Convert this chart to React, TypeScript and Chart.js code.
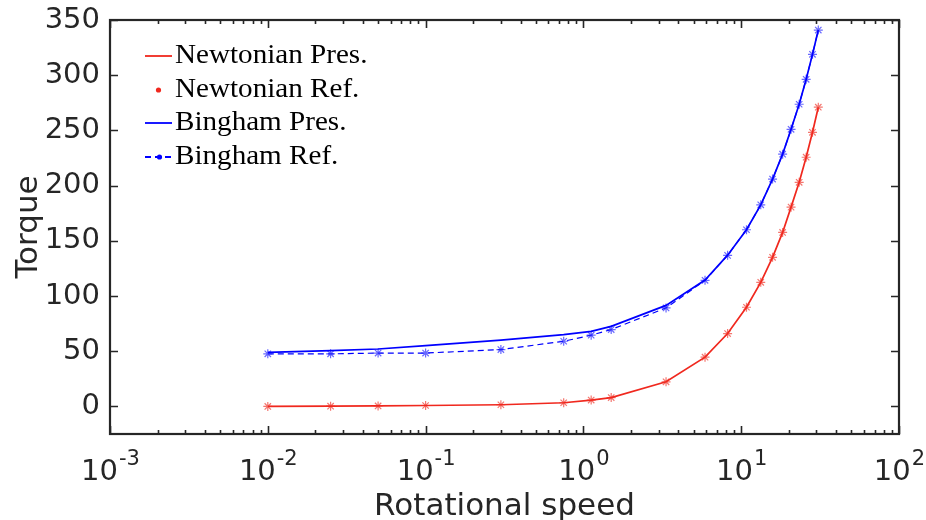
import { useEffect, useRef } from "react";
import { Chart, registerables } from "chart.js";

Chart.register(...registerables);

// ---- data ----
const speeds = [0.01, 0.025, 0.05, 0.1, 0.3, 0.75, 1.12, 1.5, 3.34, 5.9, 8.2, 10.8, 13.3, 15.8, 18.3, 20.7, 23.3, 25.8, 28.3, 30.8];
const newtonianPres = [0, 0.2, 0.4, 0.8, 1.5, 3.3, 5.7, 8, 22.3, 44.6, 66, 89.8, 112.4, 135, 157.6, 180.5, 203, 225.7, 248.3, 271];
const newtonianRef = [0, 0.2, 0.4, 0.8, 1.5, 3.3, 5.7, 8, 22.3, 44.6, 66, 89.8, 112.4, 135, 157.6, 180.5, 203, 225.7, 248.3, 271];
const binghamPres = [49, 50.5, 52, 55, 60, 65, 68, 72.5, 91.5, 114.5, 137, 160, 182.6, 205.9, 228.5, 251, 273.7, 296.3, 318.9, 340.9];
const binghamRef = [47.6, 47.6, 48.3, 48.3, 51.5, 59, 64.5, 69.6, 89.2, 114.2, 136.8, 160, 182.6, 205.9, 228.5, 251, 273.7, 296.3, 318.9, 340.9];

const yTicks = [0, 50, 100, 150, 200, 250, 300, 350];
const xDecades = [-3, -2, -1, 0, 1, 2];
const legendLabels = ["Newtonian Pres.", "Newtonian Ref.", "Bingham Pres.", "Bingham Ref."];
const xTitle = "Rotational speed";
const yTitle = "Torque";

const AXIS = "#262626";
const RED = "rgb(240,40,30)";
const RED_MARK = "rgba(240,60,50,0.7)";
const BLUE = "rgb(0,0,255)";
const BLUE_MARK = "rgba(40,40,255,0.7)";

const pts = (ys: number[]) => speeds.map((x, i) => ({ x, y: ys[i] }));

const framePlugin = {
  id: "frame",
  afterDraw(chart: any) {
    const ctx: CanvasRenderingContext2D = chart.ctx;
    const { left, right, top, bottom } = chart.chartArea;
    const xs = chart.scales.x;
    const ys = chart.scales.y;
    ctx.save();
    ctx.strokeStyle = AXIS;
    ctx.lineWidth = 2.2;
    ctx.strokeRect(left, top, right - left, bottom - top);

    // y ticks (inward, both sides)
    ctx.lineWidth = 1.6;
    ctx.beginPath();
    for (const v of yTicks) {
      const py = Math.round(ys.getPixelForValue(v)) + 0.5;
      ctx.moveTo(left, py);
      ctx.lineTo(left + 8, py);
      ctx.moveTo(right, py);
      ctx.lineTo(right - 8, py);
    }
    // x ticks major and minor
    for (const d of xDecades) {
      const px = Math.round(xs.getPixelForValue(Math.pow(10, d))) + 0.5;
      ctx.moveTo(px, bottom);
      ctx.lineTo(px, bottom - 8);
      ctx.moveTo(px, top);
      ctx.lineTo(px, top + 8);
      if (d < xDecades[xDecades.length - 1]) {
        for (let k = 2; k <= 9; k++) {
          const mx = Math.round(xs.getPixelForValue(k * Math.pow(10, d))) + 0.5;
          ctx.moveTo(mx, bottom);
          ctx.lineTo(mx, bottom - 4);
          ctx.moveTo(mx, top);
          ctx.lineTo(mx, top + 4);
        }
      }
    }
    ctx.stroke();

    // x tick labels 10^d
    ctx.fillStyle = AXIS;
    ctx.textBaseline = "alphabetic";
    ctx.textAlign = "left";
    for (const d of xDecades) {
      const px = xs.getPixelForValue(Math.pow(10, d));
      ctx.font = "29px 'DejaVu Sans'";
      const w1 = ctx.measureText("10").width;
      ctx.font = "21px 'DejaVu Sans'";
      const exp = String(d);
      const w2 = ctx.measureText(exp).width;
      const x0 = px - (w1 + w2) / 2;
      ctx.font = "29px 'DejaVu Sans'";
      ctx.fillText("10", x0, 480);
      ctx.font = "21px 'DejaVu Sans'";
      ctx.fillText(exp, x0 + w1 + 1, 465);
    }

    // axis titles
    ctx.font = "31px 'DejaVu Sans'";
    ctx.textAlign = "center";
    ctx.fillText(xTitle, (left + right) / 2, 515);
    ctx.save();
    ctx.translate(37, (top + bottom) / 2);
    ctx.rotate(-Math.PI / 2);
    ctx.fillText(yTitle, 0, 0);
    ctx.restore();

    // legend
    const rowsY = [56, 90, 123, 157];
    const sx0 = 145;
    const sx1 = 172;
    ctx.textAlign = "left";
    ctx.textBaseline = "middle";
    ctx.font = "28px 'Liberation Serif'";
    ctx.fillStyle = "#000";
    legendLabels.forEach((label, i) => {
      const y = rowsY[i];
      if (i === 0 || i === 2) {
        ctx.strokeStyle = i === 0 ? RED : BLUE;
        ctx.lineWidth = 1.8;
        ctx.setLineDash([]);
        ctx.beginPath();
        ctx.moveTo(sx0, y);
        ctx.lineTo(sx1, y);
        ctx.stroke();
      } else if (i === 1) {
        ctx.fillStyle = RED;
        ctx.beginPath();
        ctx.arc((sx0 + sx1) / 2, y, 2.6, 0, Math.PI * 2);
        ctx.fill();
      } else {
        ctx.strokeStyle = BLUE;
        ctx.lineWidth = 1.8;
        ctx.setLineDash([6, 4]);
        ctx.beginPath();
        ctx.moveTo(sx0, y);
        ctx.lineTo(sx1, y);
        ctx.stroke();
        ctx.setLineDash([]);
        ctx.fillStyle = BLUE;
        ctx.beginPath();
        ctx.arc((sx0 + sx1) / 2 + 1, y, 2.6, 0, Math.PI * 2);
        ctx.fill();
      }
      ctx.fillStyle = "#000";
      ctx.save();
      ctx.translate(175, y);
      ctx.scale(1.04, 1);
      ctx.fillText(label, 0, 0);
      ctx.restore();
    });
    ctx.restore();
  },
};

export default function App() {
  const ref = useRef<HTMLCanvasElement | null>(null);
  useEffect(() => {
    document.body.style.margin = "0";
    const canvas = ref.current!;
    const chart = new Chart(canvas, {
      type: "line",
      data: {
        datasets: [
          {
            label: legendLabels[0],
            data: pts(newtonianPres),
            borderColor: RED,
            borderWidth: 1.7,
            pointRadius: 0,
            fill: false,
          },
          {
            label: legendLabels[1],
            data: pts(newtonianRef),
            showLine: false,
            pointStyle: "star",
            pointRadius: 4.5,
            pointBorderWidth: 1.2,
            pointBorderColor: RED_MARK,
            pointBackgroundColor: RED_MARK,
            borderColor: RED_MARK,
          },
          {
            label: legendLabels[2],
            data: pts(binghamPres),
            borderColor: BLUE,
            borderWidth: 1.7,
            pointRadius: 0,
            fill: false,
          },
          {
            label: legendLabels[3],
            data: pts(binghamRef),
            borderColor: BLUE,
            borderWidth: 1.2,
            borderDash: [6, 4],
            pointStyle: "star",
            pointRadius: 4.5,
            pointBorderWidth: 1.2,
            pointBorderColor: BLUE_MARK,
            pointBackgroundColor: BLUE_MARK,
            fill: false,
          },
        ],
      },
      options: {
        responsive: false,
        animation: false,
        devicePixelRatio: 1,
        layout: { padding: { top: 20, right: 27, left: 0, bottom: 0 } },
        plugins: { legend: { display: false }, tooltip: { enabled: false } },
        scales: {
          x: {
            type: "logarithmic",
            min: 0.001,
            max: 100,
            grid: { display: false },
            border: { display: false },
            ticks: { display: false },
            afterFit: (s: any) => {
              s.height = 86;
              s.paddingLeft = 0;
              s.paddingRight = 0;
            },
          },
          y: {
            type: "linear",
            min: -25,
            max: 350,
            grid: { display: false, drawTicks: false },
            border: { display: false },
            ticks: {
              color: AXIS,
              padding: 10,
              font: { family: "'DejaVu Sans'", size: 29 },
            },
            afterBuildTicks: (s: any) => {
              s.ticks = yTicks.map((v) => ({ value: v }));
            },
            afterFit: (s: any) => {
              s.width = 110;
              s.paddingTop = 0;
              s.paddingBottom = 0;
            },
          },
        },
      },
      plugins: [framePlugin],
    });
    return () => chart.destroy();
  }, []);
  return (
    <div style={{ width: 926, height: 520 }}>
      <canvas ref={ref} width={926} height={520} style={{ display: "block" }} />
    </div>
  );
}
